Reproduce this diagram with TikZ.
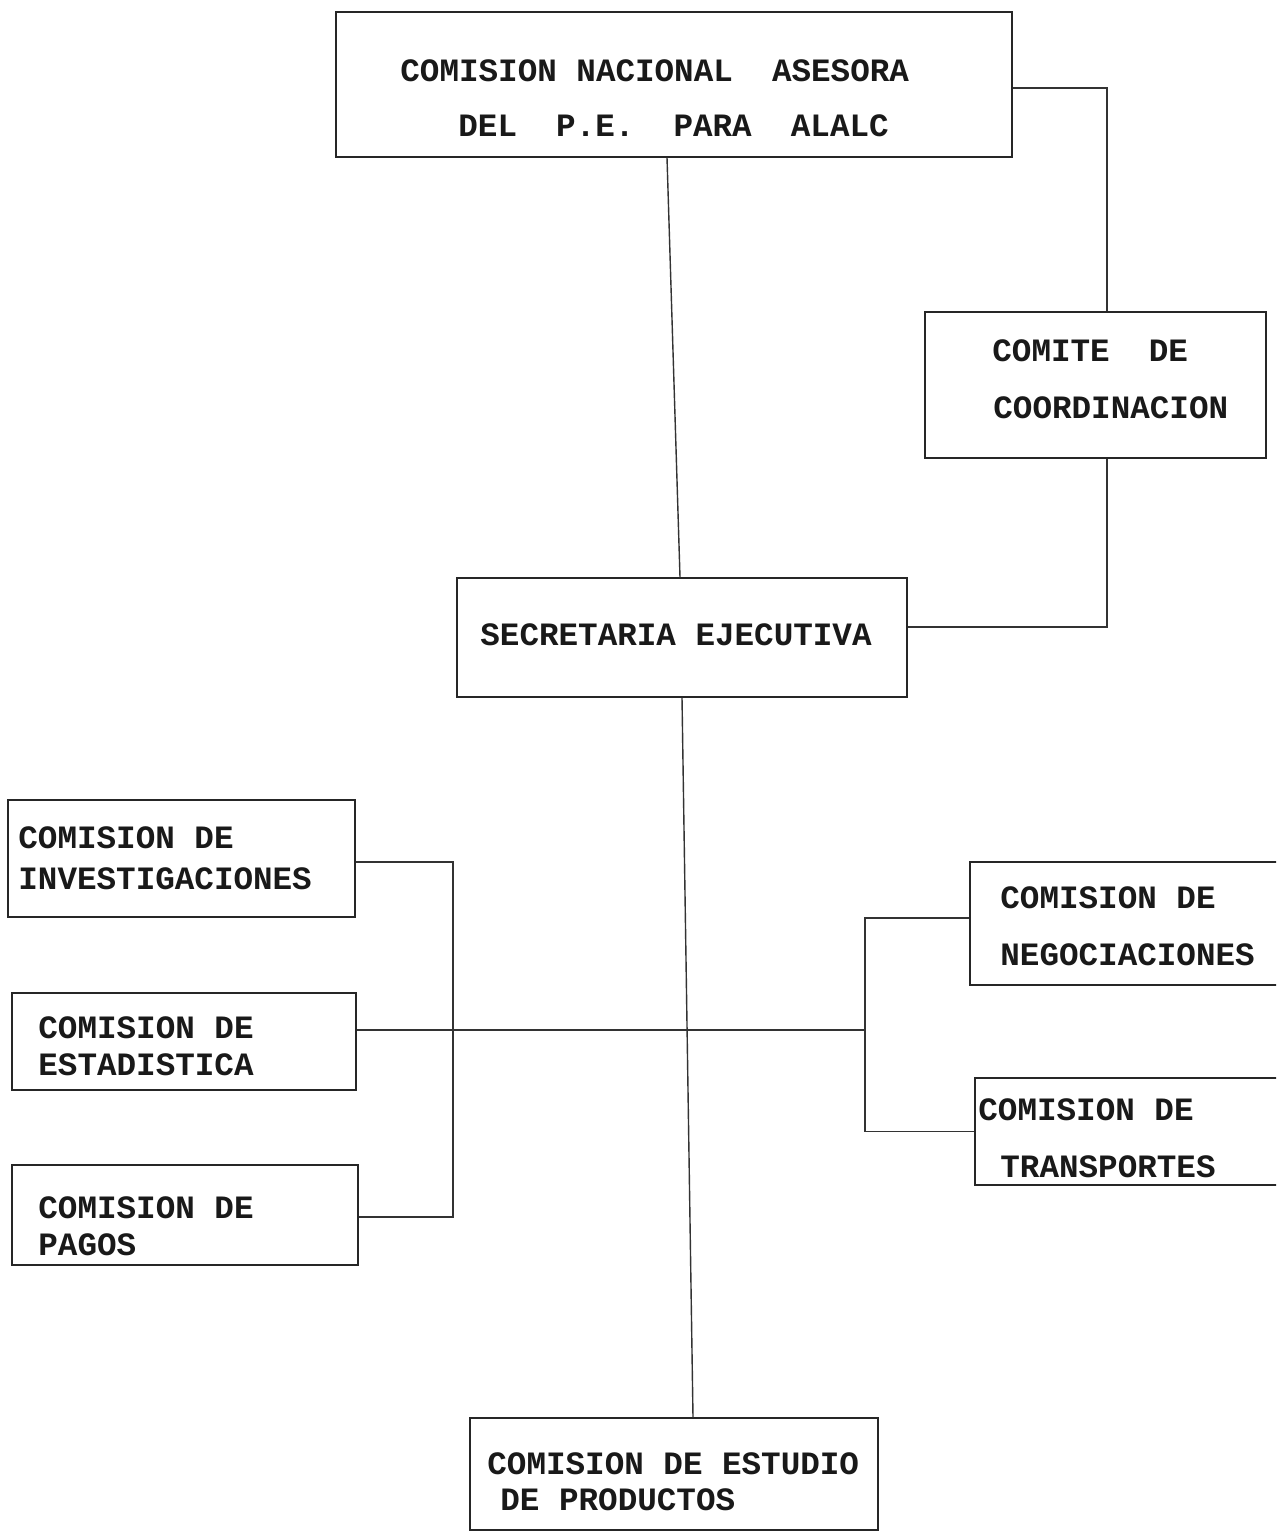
\documentclass[tikz,border=0pt]{standalone}
\usepackage{fontspec}
\setmonofont{Liberation Mono}
\usetikzlibrary{fit}
\begin{document}
\begin{tikzpicture}[x=0.5pt,y=-0.5pt,
  box/.style={draw=black!85, line width=0.75pt, inner sep=0pt},
  lbl/.style={anchor=base west, inner sep=0pt, font=\ttfamily\bfseries\fontsize{16.3}{20}\selectfont, text=black!90},
  conn/.style={draw=black!80, line width=0.7pt}]
\clip (0,0) rectangle (1276,1535);
\fill[white] (0,0) rectangle (1276,1535);
% boxes
\node[box, fit={(336,12)(1012,157)}] (top) {};
\node[box, fit={(925,312)(1266,458)}] (comite) {};
\node[box, fit={(457,578)(907,697)}] (sec) {};
\node[box, fit={(8,800)(355,917)}] (inv) {};
\node[box, fit={(12,993)(356,1090)}] (est) {};
\node[box, fit={(12,1165)(358,1265)}] (pag) {};
\node[box, fit={(970,862)(1300,985)}] (neg) {};
\node[box, fit={(975,1078)(1300,1185)}] (tra) {};
\node[box, fit={(470,1418)(878,1530)}] (prod) {};
% labels
\node[lbl] (t1) at (400,82) {COMISION NACIONAL\ \ ASESORA};
\node[lbl] (t2) at (458,137) {DEL\ \ P.E.\ \ PARA\ \ ALALC};
\node[lbl] (c1) at (992,362) {COMITE\ \ DE};
\node[lbl] (c2) at (993,418) {COORDINACION};
\node[lbl] (s1) at (480,645) {SECRETARIA EJECUTIVA};
\node[lbl] (i1) at (18,848) {COMISION DE};
\node[lbl] (i2) at (18,889) {INVESTIGACIONES};
\node[lbl] (e1) at (38,1038) {COMISION DE};
\node[lbl] (e2) at (38,1075) {ESTADISTICA};
\node[lbl] (p1) at (38,1218) {COMISION DE};
\node[lbl] (p2) at (38,1255) {PAGOS};
\node[lbl] (n1) at (1000,908) {COMISION DE};
\node[lbl] (n2) at (1000,965) {NEGOCIACIONES};
\node[lbl] (r1) at (978,1120) {COMISION DE};
\node[lbl] (r2) at (1000,1177) {TRANSPORTES};
\node[lbl] (d1) at (487,1474) {COMISION DE ESTUDIO};
\node[lbl] (d2) at (500,1510) {DE PRODUCTOS};
% junction coordinates
\coordinate (lb) at (453,1030);
\coordinate (rb) at (865,1030);
% connectors
\draw[conn] ([yshift=-1.75pt]top.east) -| ([xshift=5.75pt]comite.north);
\draw[conn] ([xshift=5.75pt]comite.south) |- ([yshift=5.25pt]sec.east);
\draw[conn] ([xshift=-3.5pt]top.south) -- ([xshift=-1pt]sec.north);
\draw[conn] (sec.south) -- ([xshift=9.5pt]prod.north);
\draw[conn] (est.east |- lb) -- (rb);
\draw[conn] ([yshift=-1.75pt]inv.east) -| (lb) |- ([yshift=-1pt]pag.east);
\draw[conn] ([yshift=2.75pt]neg.west) -| (rb) |- (tra.west);
\end{tikzpicture}
\end{document}
